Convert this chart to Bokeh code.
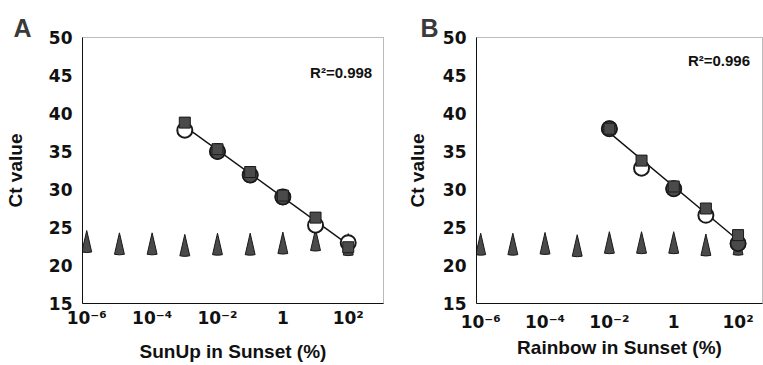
import numpy as np
from bokeh.plotting import figure
from bokeh.layouts import row
from bokeh.models import Range1d, FixedTicker, Label, Title
from bokeh.embed import file_html
from bokeh.resources import INLINE

# ---------------- data ----------------
tick_values = [1e-6, 1e-4, 1e-2, 1.0, 100.0]
tick_labels = ["10\u207b\u2076", "10\u207b\u2074", "10\u207b\u00b2", "1", "10\u00b2"]
y_ticks = [15, 20, 25, 30, 35, 40, 45, 50]

conc_tri = [1e-6, 1e-5, 1e-4, 1e-3, 1e-2, 1e-1, 1, 10, 100]

# Panel A: SunUp in Sunset
a_tri = [23.2, 22.9, 22.9, 22.7, 22.85, 22.85, 23.0, 23.4, 22.8]
a_conc = [1e-3, 1e-2, 1e-1, 1, 10, 100]
a_open = [37.8, 35.0, 31.9, 29.0, 25.3, 23.0]
a_square = [38.8, 35.3, 32.3, 29.2, 26.3, 22.4]
a_fill_conc = [1e-2, 1e-1, 1]
a_fill = [35.0, 31.9, 29.0]
a_r2 = "R\u00b2=0.998"

# Panel B: Rainbow in Sunset
b_tri = [22.8, 22.8, 22.9, 22.6, 23.0, 23.0, 23.0, 22.7, 22.8]
b_conc = [1e-2, 1e-1, 1, 10, 100]
b_open = [38.0, 32.8, 30.1, 26.6, 22.9]
b_square = [38.0, 33.8, 30.4, 27.5, 24.0]
b_fill_conc = [1e-2, 1, 100]
b_fill = [38.0, 30.1, 22.9]
b_r2 = "R\u00b2=0.996"

FONT = "Liberation Sans"
TICK_FONT = "DejaVu Sans"
GRAY = "#4a4a4a"
DARK = "#1a1a1a"
Y0, Y1 = 15, 50


def panel(letter, xlabel, tri, conc, open_v, square_v, fill_conc, fill_v, r2,
          width, x_start, x_end, borders, r2_xy, letter_offset, ylab_standoff,
          xtick_standoff, xlab_standoff):
    left, right, top, bottom = borders
    height = 365
    frame_h = height - top - bottom
    title = Title(text=letter, align="left", offset=letter_offset,
                  standoff=-8, text_font=FONT, text_font_style="bold",
                  text_font_size="25px", text_color="#3a3a3a")
    p = figure(width=width, height=height, x_axis_type="log",
               x_range=Range1d(x_start, x_end), y_range=Range1d(Y0, Y1),
               output_backend="svg", toolbar_location=None, title=title,
               min_border_left=left, min_border_right=right,
               min_border_top=top, min_border_bottom=bottom)
    p.background_fill_color = "white"
    p.border_fill_color = "white"
    p.grid.visible = False
    p.outline_line_color = "#777777"
    p.outline_line_dash = "1 1"
    p.outline_line_width = 1

    # triangles (narrow cones) drawn as wedges, apex placed above the value
    half_px = 11
    apex = [v + half_px * (Y1 - Y0) / frame_h for v in tri]
    p.wedge(x=conc_tri, y=apex, radius=22, radius_units="screen",
            start_angle=np.radians(257), end_angle=np.radians(283),
            fill_color=GRAY, line_color=DARK, line_width=1)

    # regression line
    lx = np.log10(np.array(conc + conc, dtype=float))
    ly = np.array(open_v + square_v, dtype=float)
    k, b = np.polyfit(lx, ly, 1)
    xs = [min(conc), max(conc) * 1.3]
    ys = [k * np.log10(x) + b for x in xs]
    p.line(xs, ys, line_color="#111111", line_width=1.4)

    p.scatter(conc, open_v, marker="circle", size=15, fill_color="white",
              line_color=DARK, line_width=2)
    p.scatter(fill_conc, fill_v, marker="circle", size=15, fill_color=GRAY,
              line_color=DARK, line_width=1.5)
    p.scatter(conc, square_v, marker="square", size=11, fill_color=GRAY,
              line_color=DARK, line_width=1)

    # axes
    p.xaxis.ticker = FixedTicker(ticks=tick_values, minor_ticks=[])
    p.xaxis.major_label_overrides = dict(zip(tick_values, tick_labels))
    p.yaxis.ticker = FixedTicker(ticks=y_ticks, minor_ticks=[])
    for ax in (p.xaxis[0], p.yaxis[0]):
        ax.axis_line_color = "#111111"
        ax.axis_line_width = 1
        ax.major_tick_line_color = None
        ax.minor_tick_line_color = None
        ax.major_tick_out = 0
        ax.major_tick_in = 0
        ax.major_label_text_font = TICK_FONT
        ax.major_label_text_font_style = "bold"
        ax.major_label_text_font_size = "17px"
        ax.major_label_text_color = "#111111"
        ax.axis_label_text_font = FONT
        ax.axis_label_text_font_style = "bold"
        ax.axis_label_text_font_size = "19px"
        ax.axis_label_text_color = "#111111"
    p.xaxis.axis_label = xlabel
    p.yaxis.axis_label = "Ct value"
    p.yaxis.major_label_standoff = 10
    p.yaxis.axis_label_standoff = ylab_standoff
    p.xaxis.major_label_standoff = xtick_standoff
    p.xaxis.axis_label_standoff = xlab_standoff

    p.add_layout(Label(x=r2_xy[0], y=r2_xy[1], text=r2, text_align="right",
                       text_baseline="middle", text_font=FONT,
                       text_font_style="bold", text_font_size="15px",
                       text_color="#111111"))
    return p


pA = panel("A", "SunUp in Sunset (%)", a_tri, a_conc, a_open, a_square,
           a_fill_conc, a_fill, a_r2, width=390, x_start=10 ** -6.13,
           x_end=1200, borders=(82, 7, 29, 60), r2_xy=(541, 45.4),
           letter_offset=-69, ylab_standoff=20, xtick_standoff=4,
           xlab_standoff=10)
pB = panel("B", "Rainbow in Sunset (%)", b_tri, b_conc, b_open, b_square,
           b_fill_conc, b_fill, b_r2, width=373, x_start=10 ** -6.13,
           x_end=575, borders=(86, 1, 37, 62), r2_xy=(236, 47.0),
           letter_offset=-56, ylab_standoff=12, xtick_standoff=8,
           xlab_standoff=2)

layout = row(pA, pB)
open("out.html", "w").write(file_html(layout, INLINE))
